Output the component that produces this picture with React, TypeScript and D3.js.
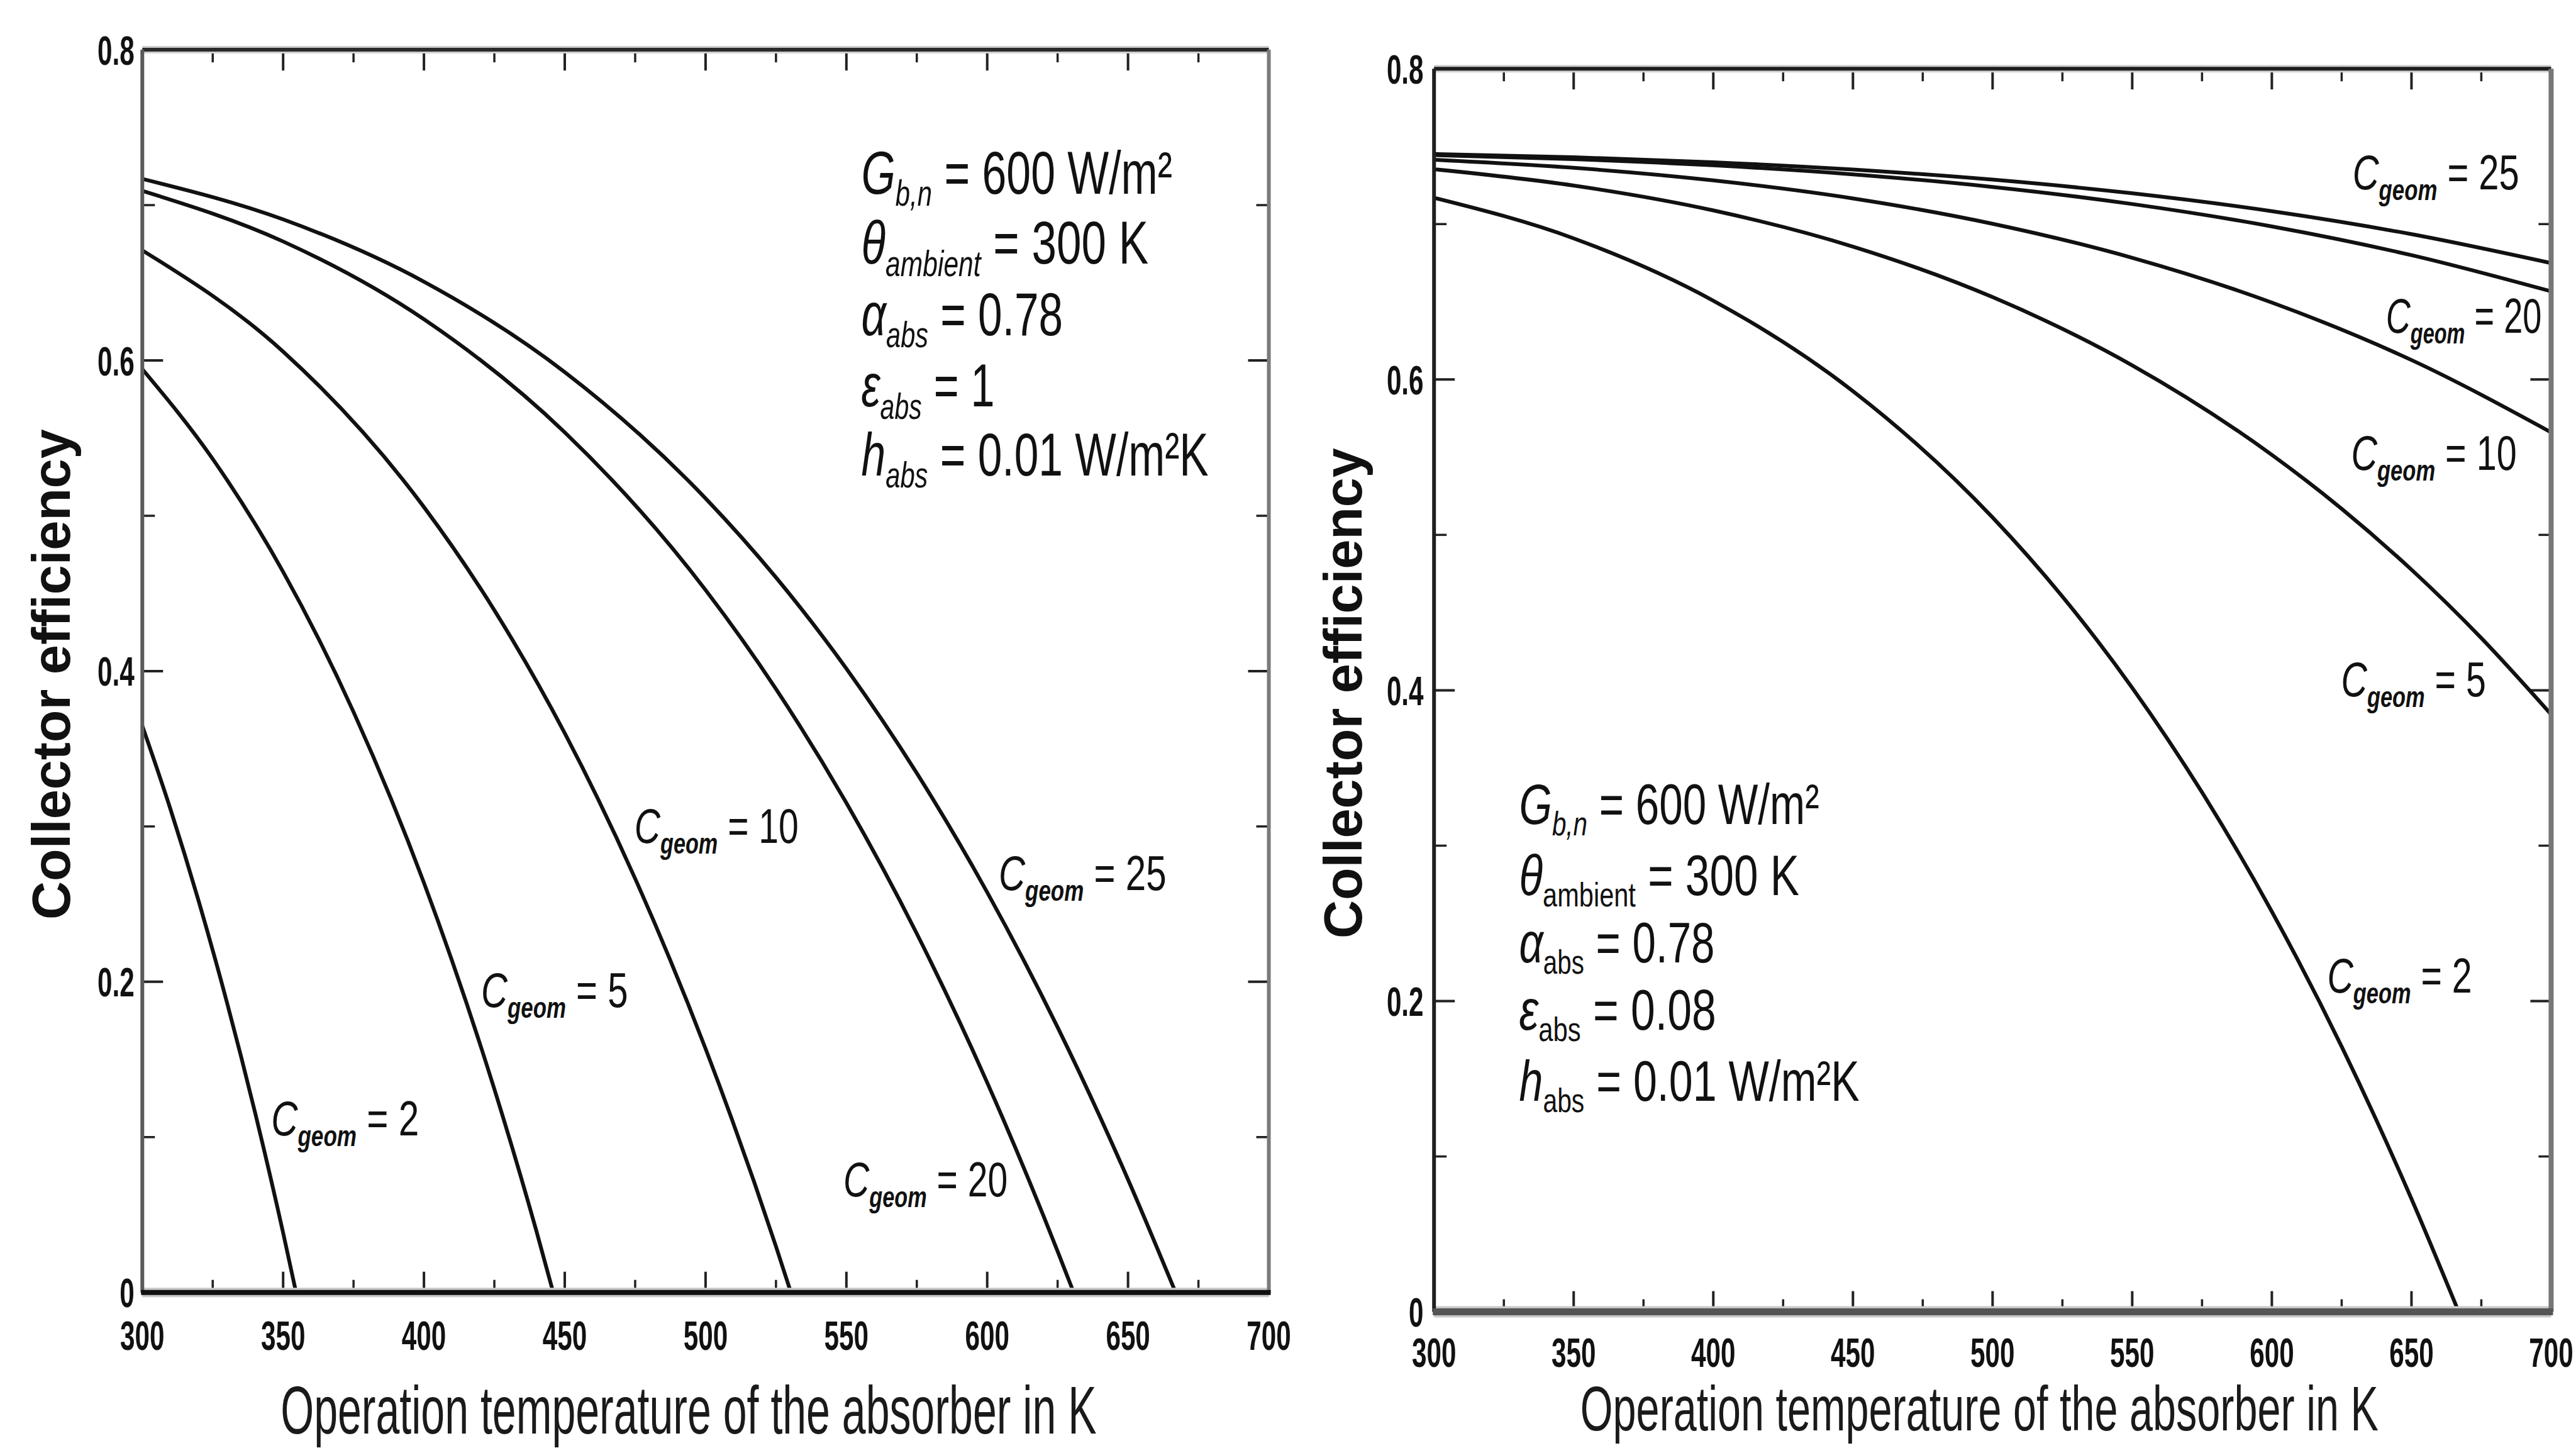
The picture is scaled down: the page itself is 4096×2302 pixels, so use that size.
import React from 'react';
import * as d3 from 'd3';

// ---------- data ----------
const xMajorTicks = [300, 350, 400, 450, 500, 550, 600, 650, 700];
const xMinorTicks = [325, 375, 425, 475, 525, 575, 625, 675];
const yMajorTicks = [0, 0.2, 0.4, 0.6, 0.8];
const yMinorTicks = [0.1, 0.3, 0.5, 0.7];
const yTickLabels = ['0', '0.2', '0.4', '0.6', '0.8'];

const seriesNames = ['2', '5', '10', '20', '25'];

// left panel (emissivity 1)
const leftC2T = [300, 310, 320, 330, 340, 350, 354.6];
const leftC2E = [0.3647, 0.3111, 0.252, 0.1871, 0.1161, 0.0384, 0];
const leftC5T = [300, 325, 350, 375, 400, 425, 440, 445.9];
const leftC5E = [0.5944, 0.5366, 0.4639, 0.3737, 0.2637, 0.1309, 0.0391, 0];
const leftC10T = [300, 350, 400, 425, 450, 475, 500, 525, 530.3];
const leftC10E = [0.6709, 0.6057, 0.5056, 0.4392, 0.36, 0.2664, 0.1569, 0.0296, 0];
const leftC20T = [300, 350, 400, 450, 500, 525, 550, 575, 600, 625, 630.7];
const leftC20E = [0.7092, 0.6766, 0.6265, 0.5537, 0.4522, 0.3885, 0.3151, 0.231, 0.1351, 0.0265, 0];
const leftC25T = [300, 350, 400, 450, 500, 525, 550, 575, 600, 625, 650, 666.9];
const leftC25E = [0.7169, 0.6908, 0.6507, 0.5925, 0.5112, 0.4603, 0.4016, 0.3343, 0.2576, 0.1707, 0.0727, 0];

// right panel (emissivity 0.08)
const rightC2T = [300, 350, 400, 450, 500, 525, 550, 575, 600, 625, 650, 666.9];
const rightC2E = [0.7169, 0.6908, 0.6507, 0.5925, 0.5112, 0.4603, 0.4016, 0.3343, 0.2576, 0.1707, 0.0727, 0];
const rightC5T = [300, 350, 400, 450, 500, 550, 600, 625, 650, 675, 700];
const rightC5E = [0.7353, 0.7248, 0.7088, 0.6855, 0.653, 0.6091, 0.5515, 0.5168, 0.4776, 0.4336, 0.3845];
const rightC10T = [300, 350, 400, 450, 500, 550, 600, 650, 700];
const rightC10E = [0.7414, 0.7362, 0.7281, 0.7165, 0.7002, 0.6783, 0.6495, 0.6125, 0.566];
const rightC20T = [300, 350, 400, 450, 500, 550, 600, 650, 700];
const rightC20E = [0.7444, 0.7418, 0.7378, 0.732, 0.7239, 0.7129, 0.6985, 0.68, 0.6567];
const rightC25T = [300, 350, 400, 450, 500, 550, 600, 650, 700];
const rightC25E = [0.7451, 0.743, 0.7398, 0.7351, 0.7286, 0.7198, 0.7083, 0.6935, 0.6749];

const paramSymbols = ['G', 'θ', 'α', 'ε', 'h'];
const paramSubs = ['b,n', 'ambient', 'abs', 'abs', 'abs'];
const leftParamValues = ['= 600 W/m²', '= 300 K', '= 0.78', '= 1', '= 0.01 W/m²K'];
const rightParamValues = ['= 600 W/m²', '= 300 K', '= 0.78', '= 0.08', '= 0.01 W/m²K'];

const xTitle = 'Operation temperature of the absorber in K';
const yTitle = 'Collector efficiency';

// ---------- layout (reference px, scaled) ----------
const W = 4096;
const H = 2302;
const S = 4096 / 5177;
const FONT = 'Liberation Sans, Arial, sans-serif';

let _ctx: CanvasRenderingContext2D | null = null;
function measure(text: string, size: number, italic = false, bold = false): number {
  if (!_ctx) {
    const cv = document.createElement('canvas');
    _ctx = cv.getContext('2d');
  }
  if (!_ctx) return text.length * size * 0.5;
  _ctx.font = `${italic ? 'italic ' : ''}${bold ? 'bold ' : ''}${size}px "Liberation Sans", Arial, sans-serif`;
  return _ctx.measureText(text).width;
}

const zip = (a: number[], b: number[]) => a.map((v, i) => [v, b[i]] as [number, number]);

type PanelCfg = {
  x0: number; x1: number; yTop: number; yBot: number;
  series: [number, number][][];
  labels: [number, number, number][];
  params: string[];
  paramX: number; paramBase: number[]; paramW: number[]; paramSize: number;
  subItalic: boolean[];
  frame: { top: [string, number]; left: [string, number]; bottom: [string, number]; right: [string, number] };
  xLabBase: number; yLabRight: number;
  xTitleX: number; xTitleW: number; xTitleBase: number; xTitleSize: number;
  yTitleX: number; yTitleCY: number;
};

function SubText({ x, y, size, width, main, sub, rest, subItalic, subBold, subScale, shift }: {
  x: number; y: number; size: number; width: number; main: string; sub: string; rest: string;
  subItalic: boolean; subBold: boolean; subScale: number; shift: number;
}) {
  const natural = measure(main, size, true) + measure(sub, size * subScale, subItalic, subBold) + measure(rest, size);
  const sx = width / natural;
  return (
    <text transform={`translate(${x},${y}) scale(${sx},1)`} fontFamily={FONT} fontSize={size} fill="#111"
      style={{ whiteSpace: 'pre' }}>
      <tspan fontStyle="italic">{main}</tspan>
      <tspan fontStyle={subItalic ? 'italic' : 'normal'} fontWeight={subBold ? 'bold' : 'normal'}
        fontSize={size * subScale} dy={size * shift}>{sub}</tspan>
      <tspan dy={-size * shift}>{rest}</tspan>
    </text>
  );
}

function Panel({ c }: { c: PanelCfg }) {
  const x = d3.scaleLinear().domain([300, 700]).range([c.x0 * S, c.x1 * S]);
  const y = d3.scaleLinear().domain([0, 0.8]).range([c.yBot * S, c.yTop * S]);
  const line = d3.line<[number, number]>().x(d => x(d[0])).y(d => y(d[1])).curve(d3.curveMonotoneX);
  const L = 33, Sm = 20;
  const X0 = x(300), X1 = x(700), YT = y(0.8), YB = y(0);
  const tickSize = 64;
  const sx = 0.66;
  const cSize = 77;
  const xtW = measure(xTitle, c.xTitleSize);
  const ytW = measure(yTitle, 84.6, false, true);
  return (
    <g>
      {xMajorTicks.slice(1, -1).map(t => (
        <g key={'xm' + t} stroke="#222" strokeWidth={4}>
          <line x1={x(t)} x2={x(t)} y1={YB} y2={YB - L} />
          <line x1={x(t)} x2={x(t)} y1={YT} y2={YT + L} />
        </g>
      ))}
      {xMinorTicks.map(t => (
        <g key={'xn' + t} stroke="#222" strokeWidth={3.5}>
          <line x1={x(t)} x2={x(t)} y1={YB} y2={YB - Sm} />
          <line x1={x(t)} x2={x(t)} y1={YT} y2={YT + Sm} />
        </g>
      ))}
      {yMajorTicks.slice(1, -1).map(t => (
        <g key={'ym' + t} stroke="#222" strokeWidth={4}>
          <line x1={X0} x2={X0 + L} y1={y(t)} y2={y(t)} />
          <line x1={X1} x2={X1 - L} y1={y(t)} y2={y(t)} />
        </g>
      ))}
      {yMinorTicks.map(t => (
        <g key={'yn' + t} stroke="#222" strokeWidth={3.5}>
          <line x1={X0} x2={X0 + Sm} y1={y(t)} y2={y(t)} />
          <line x1={X1} x2={X1 - Sm} y1={y(t)} y2={y(t)} />
        </g>
      ))}
      {c.series.map((s, i) => (
        <path key={'s' + i} d={line(s) || ''} fill="none" stroke="#111" strokeWidth={6} strokeLinejoin="round" />
      ))}
      <line x1={X0} x2={X1} y1={YT} y2={YT} stroke="#cfcfcf" strokeWidth={c.frame.top[1] + 6} />
      <line x1={X0} x2={X1} y1={YB} y2={YB} stroke="#c8c8c8" strokeWidth={c.frame.bottom[1] + 7} />
      <line x1={X0} x2={X1} y1={YT} y2={YT} stroke={c.frame.top[0]} strokeWidth={c.frame.top[1]} />
      <line x1={X0} x2={X0} y1={YT} y2={YB} stroke={c.frame.left[0]} strokeWidth={c.frame.left[1]} />
      <line x1={X1} x2={X1} y1={YT} y2={YB} stroke={c.frame.right[0]} strokeWidth={c.frame.right[1]} />
      <line x1={X0 - 2} x2={X1 + 3} y1={YB} y2={YB} stroke={c.frame.bottom[0]} strokeWidth={c.frame.bottom[1]} />
      {xMajorTicks.map(t => (
        <text key={'xl' + t} transform={`translate(${x(t)},${c.xLabBase * S}) scale(${sx},1)`}
          textAnchor="middle" fontFamily={FONT} fontWeight="bold" fontSize={tickSize} fill="#111">{t}</text>
      ))}
      {yMajorTicks.map((t, i) => (
        <text key={'yl' + t} transform={`translate(${c.yLabRight * S},${y(t) + 23.5}) scale(${sx},1)`}
          textAnchor="end" fontFamily={FONT} fontWeight="bold" fontSize={tickSize} fill="#111">{yTickLabels[i]}</text>
      ))}
      {c.labels.map((l, i) => (
        <SubText key={'cl' + i} x={l[0] * S} y={l[1] * S} size={cSize} width={(l[2] - l[0]) * S}
          main="C" sub="geom" rest={' = ' + seriesNames[i]} subItalic={true} subBold={true} subScale={0.6} shift={0.22} />
      ))}
      {paramSymbols.map((sym, i) => (
        <SubText key={'p' + i} x={c.paramX * S} y={c.paramBase[i] * S} size={c.paramSize} width={c.paramW[i] * S}
          main={sym} sub={paramSubs[i]} rest={' ' + c.params[i]} subItalic={c.subItalic[i]} subBold={false}
          subScale={0.6} shift={0.2} />
      ))}
      <text transform={`translate(${c.xTitleX * S},${c.xTitleBase * S}) scale(${(c.xTitleW * S) / xtW},1)`}
        fontFamily={FONT} fontSize={c.xTitleSize} fill="#1a1a1a">{xTitle}</text>
      <text transform={`translate(${c.yTitleX * S},${c.yTitleCY * S}) rotate(-90) scale(${780 / ytW},1)`} textAnchor="middle"
        fontFamily={FONT} fontWeight="bold" fontSize={84.6} fill="#111">{yTitle}</text>
    </g>
  );
}

const leftCfg: PanelCfg = {
  x0: 286, x1: 2550, yTop: 100, yBot: 2597,
  series: [zip(leftC2T, leftC2E), zip(leftC5T, leftC5E), zip(leftC10T, leftC10E), zip(leftC20T, leftC20E), zip(leftC25T, leftC25E)],
  labels: [[545, 2282, 842], [967, 2024, 1262], [1275, 1694, 1605], [1695, 2404, 2025], [2007, 1788, 2344]],
  params: leftParamValues,
  paramX: 1731, paramBase: [389, 530, 674, 817, 955], paramW: [625, 577, 405, 268, 698], paramSize: 96,
  subItalic: [true, true, true, true, true],
  frame: { top: ['#2a2a2a', 6], left: ['#5a5a5a', 6], bottom: ['#111', 8], right: ['#7a7a7a', 6] },
  xLabBase: 2712, yLabRight: 270,
  xTitleX: 564, xTitleW: 1640, xTitleBase: 2880, xTitleSize: 108,
  yTitleX: 140, yTitleCY: 1355,
};

const rightCfg: PanelCfg = {
  x0: 2882, x1: 5127, yTop: 138, yBot: 2636,
  series: [zip(rightC2T, rightC2E), zip(rightC5T, rightC5E), zip(rightC10T, rightC10E), zip(rightC20T, rightC20E), zip(rightC25T, rightC25E)],
  labels: [[4677, 1995, 4968], [4705, 1399, 4996], [4725, 944, 5058], [4795, 669, 5108], [4728, 381, 5063]],
  params: rightParamValues,
  paramX: 3053, paramBase: [1656, 1798, 1934, 2069, 2212], paramW: [603, 563, 393, 396, 684], paramSize: 90,
  subItalic: [true, false, false, false, false],
  frame: { top: ['#1e1e1e', 6], left: ['#1e1e1e', 6], bottom: ['#555', 11], right: ['#777', 8] },
  xLabBase: 2747, yLabRight: 2861,
  xTitleX: 3176, xTitleW: 1604, xTitleBase: 2874, xTitleSize: 100,
  yTitleX: 2736, yTitleCY: 1393,
};

export default function App() {
  return (
    <svg width={W} height={H} viewBox={`0 0 ${W} ${H}`}
      style={{ position: 'absolute', left: 0, top: 0, background: '#fff' }}>
      <rect x={0} y={0} width={W} height={H} fill="#fff" />
      <Panel c={leftCfg} />
      <Panel c={rightCfg} />
    </svg>
  );
}
